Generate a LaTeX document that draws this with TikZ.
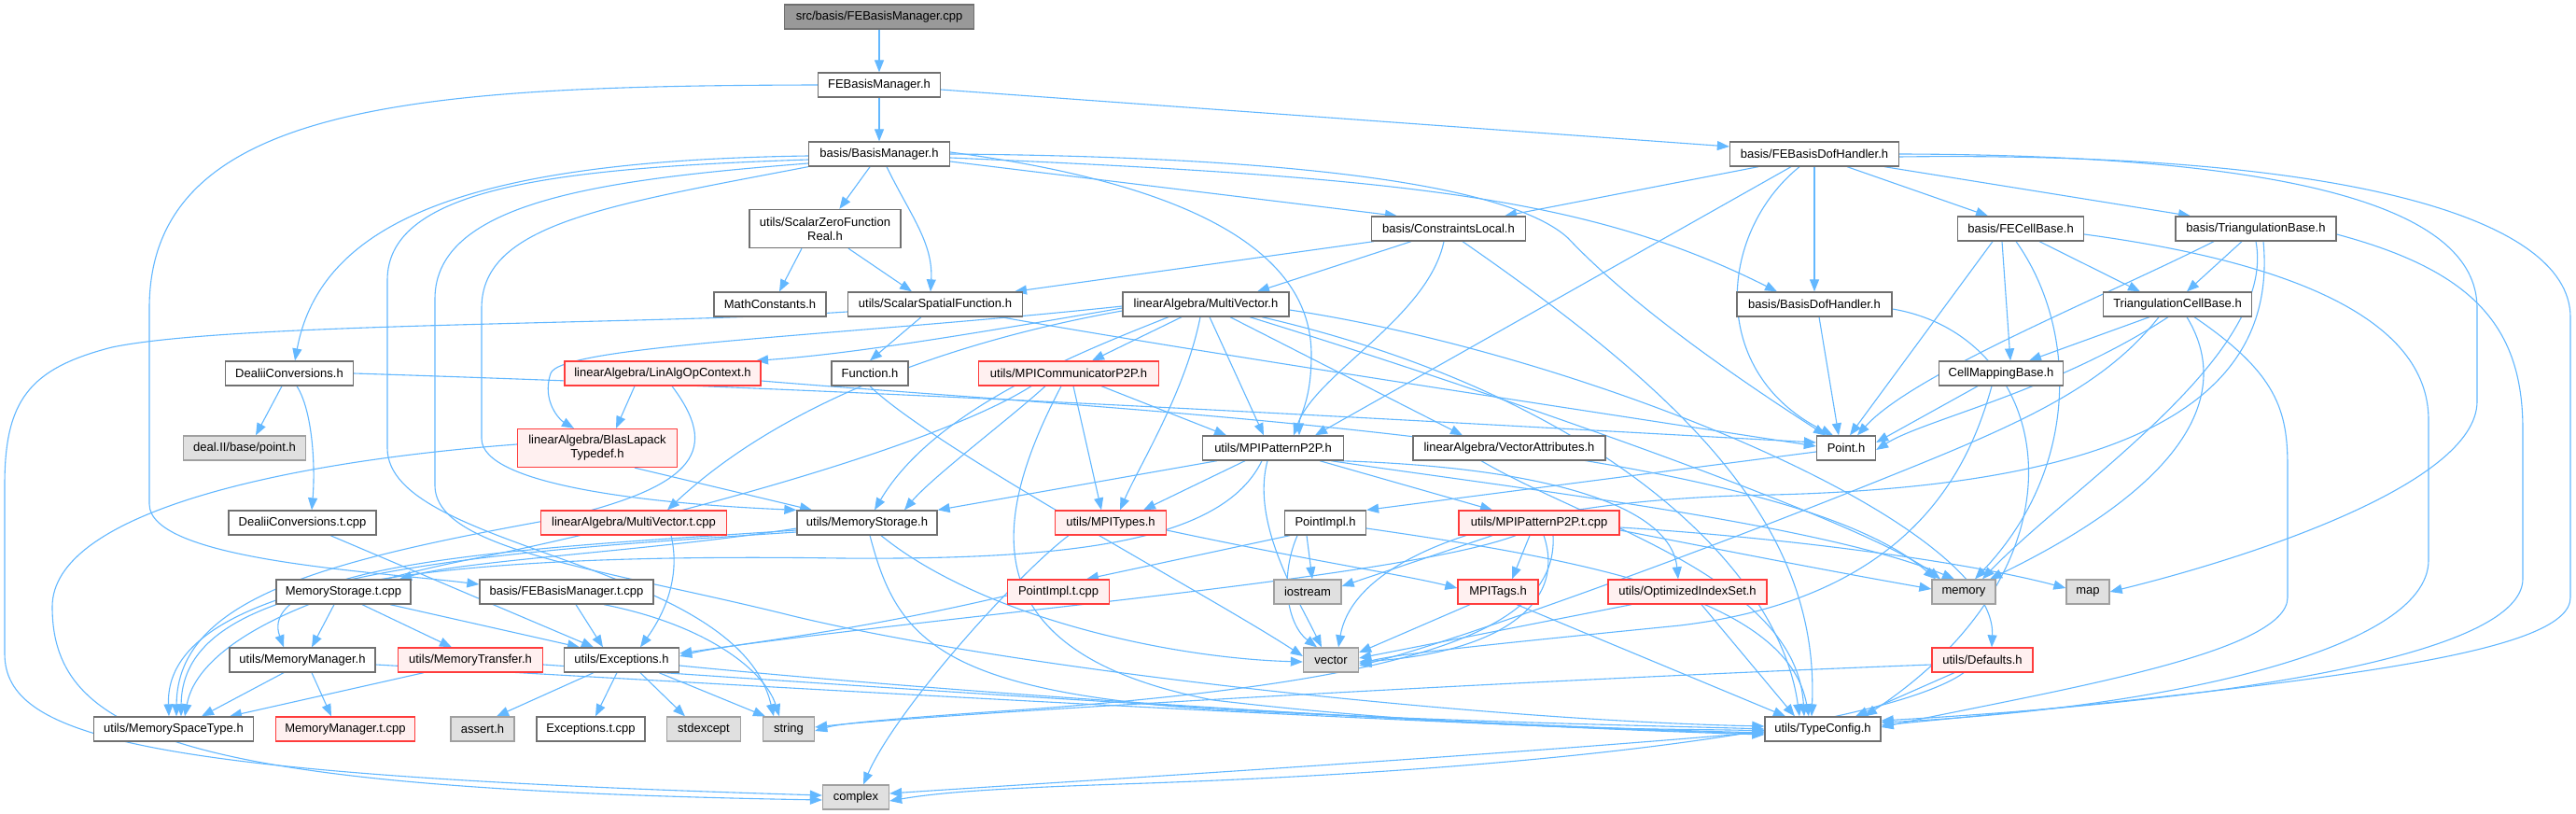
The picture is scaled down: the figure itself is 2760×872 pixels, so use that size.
\documentclass[tikz,border=0pt]{standalone}
\usepackage{fontspec}
\setmainfont{Liberation Sans}
\usetikzlibrary{arrows.meta}
\definecolor{edgec}{HTML}{63B8FF}
\definecolor{nodeborder}{HTML}{707070}
\definecolor{rootfill}{HTML}{999999}
\definecolor{redborder}{RGB}{255,60,60}
\definecolor{redfill}{HTML}{FFF0F0}
\definecolor{grayborder}{HTML}{A0A0A0}
\definecolor{grayfill}{HTML}{E0E0E0}
\newcommand\nodefont{\fontsize{13}{15}\selectfont}
\pgfdeclarelayer{back}
\pgfdeclarelayer{bg}
\pgfsetlayers{back,bg,main}
\tikzset{
  nb/.style={draw=nodeborder, fill=white, line width=1.3pt, minimum height=26pt, inner sep=0pt, font=\nodefont, align=center},
  rt/.style={nb, fill=rootfill},
  rd/.style={nb, draw=redborder, fill=redfill},
  gy/.style={nb, draw=grayborder, fill=grayfill},
  e/.style={draw=edgec, line width=1.1pt, -{Triangle[length=13pt,width=10pt]}},
}
\begin{document}
\begin{tikzpicture}[x=1pt,y=-1pt]
\useasboundingbox (0,0) rectangle (2760,872);
\begin{pgfonlayer}{back}
\fill[white] (0,0) rectangle (2760,872);
\end{pgfonlayer}
% nodes
\node[rt, minimum width=203pt] (root) at (942,18) {src/basis/FEBasisManager.cpp};
\node[nb, minimum width=131pt] (FEBMh) at (942,91) {FEBasisManager.h};
\node[nb, minimum width=151pt] (BMh) at (942,165) {basis/BasisManager.h};
\node[nb, minimum width=181pt] (FEBDH) at (1944,165) {basis/FEBasisDofHandler.h};
\node[nb, minimum width=162pt, minimum height=41pt] (SZFR) at (884,245) {utils/ScalarZeroFunction\\Real.h};
\node[nb, minimum width=165pt] (CL) at (1552,245) {basis/ConstraintsLocal.h};
\node[nb, minimum width=135pt] (FECB) at (2165,245) {basis/FECellBase.h};
\node[nb, minimum width=172pt] (TRIB) at (2417,245) {basis/TriangulationBase.h};
\node[nb, minimum width=120pt] (MATH) at (825,326) {MathConstants.h};
\node[nb, minimum width=187pt] (SSF) at (1002,326) {utils/ScalarSpatialFunction.h};
\node[nb, minimum width=178pt] (MV) at (1292,326) {linearAlgebra/MultiVector.h};
\node[nb, minimum width=166pt] (BDH) at (1944,326) {basis/BasisDofHandler.h};
\node[nb, minimum width=159pt] (TCB) at (2333,326) {TriangulationCellBase.h};
\node[nb, minimum width=137pt] (DCh) at (310,400) {DealiiConversions.h};
\node[rd, minimum width=210pt] (LAOC) at (710,400) {linearAlgebra/LinAlgOpContext.h};
\node[nb, minimum width=82pt] (FUNC) at (932,400) {Function.h};
\node[rd, minimum width=193pt] (MPIC) at (1145,400) {utils/MPICommunicatorP2P.h};
\node[nb, minimum width=133pt] (CMB) at (2144,400) {CellMappingBase.h};
\node[gy, minimum width=131pt] (DEAL) at (262,480) {deal.II/base/point.h};
\node[rd, minimum width=171pt, minimum height=41pt] (BLAS) at (640,480) {linearAlgebra/BlasLapack\\Typedef.h};
\node[nb, minimum width=151pt] (MPIP) at (1364,480) {utils/MPIPatternP2P.h};
\node[nb, minimum width=206pt] (VA) at (1617,480) {linearAlgebra/VectorAttributes.h};
\node[nb, minimum width=63pt] (PT) at (1978,480) {Point.h};
\node[nb, minimum width=158pt] (DCt) at (324,560) {DealiiConversions.t.cpp};
\node[rd, minimum width=199pt] (MVt) at (679,560) {linearAlgebra/MultiVector.t.cpp};
\node[nb, minimum width=150pt] (MS) at (929,560) {utils/MemoryStorage.h};
\node[rd, minimum width=119pt] (MPIT) at (1190,560) {utils/MPITypes.h};
\node[nb, minimum width=87pt] (PI) at (1420,560) {PointImpl.h};
\node[rd, minimum width=172pt] (MPIPt) at (1649,560) {utils/MPIPatternP2P.t.cpp};
\node[nb, minimum width=144pt] (MSt) at (368,634) {MemoryStorage.t.cpp};
\node[nb, minimum width=186pt] (FEBMt) at (607,634) {basis/FEBasisManager.t.cpp};
\node[rd, minimum width=109pt] (PIt) at (1134,634) {PointImpl.t.cpp};
\node[gy, minimum width=72pt] (IOS) at (1401,634) {iostream};
\node[rd, minimum width=86pt] (TAGS) at (1605,634) {MPITags.h};
\node[rd, minimum width=170pt] (OIS) at (1808,634) {utils/OptimizedIndexSet.h};
\node[gy, minimum width=68pt] (MEM) at (2104,634) {memory};
\node[gy, minimum width=46pt] (MAP) at (2237,634) {map};
\node[nb, minimum width=156pt] (MM) at (324,707) {utils/MemoryManager.h};
\node[rd, minimum width=155pt] (MT) at (504,707) {utils/MemoryTransfer.h};
\node[nb, minimum width=123pt] (EXC) at (666,707) {utils/Exceptions.h};
\node[gy, minimum width=59pt] (VEC) at (1426,707) {vector};
\node[rd, minimum width=108pt] (DEF) at (2124,707) {utils/Defaults.h};
\node[nb, minimum width=171pt] (MST) at (186,781) {utils/MemorySpaceType.h};
\node[rd, minimum width=149pt] (MMt) at (370,781) {MemoryManager.t.cpp};
\node[gy, minimum width=68pt] (ASSERT) at (517,781) {assert.h};
\node[nb, minimum width=116pt] (EXt) at (633,781) {Exceptions.t.cpp};
\node[gy, minimum width=79pt] (STDX) at (754,781) {stdexcept};
\node[gy, minimum width=55pt] (STR) at (845,781) {string};
\node[nb, minimum width=124pt] (TC) at (1953,781) {utils/TypeConfig.h};
\node[gy, minimum width=71pt] (CPX) at (917,854) {complex};

\begin{pgfonlayer}{bg}
% root / FEBasisManager.h
\draw[e] (root) -- (FEBMh);
\draw[e] (FEBMh) -- (BMh);
\draw[e] ([yshift=-5pt]FEBMh.east) -- ([yshift=8pt]FEBDH.west);
\draw[e] (FEBMh.west) .. controls (450,92) and (160,110) .. (160,330) -- (160,540) .. controls (160,600) and (400,612) .. ([yshift=8pt]FEBMt.west);
% BasisManager.h
\draw[e] ([yshift=-2pt]BMh.west) .. controls (520,172) and (345,230) .. ([xshift=6pt]DCh.north);
\draw[e] ([yshift=-6pt]BMh.west) .. controls (600,180) and (415,200) .. (415,300) -- (415,480) .. controls (415,590) and (790,600) .. ([xshift=-16pt]STR.north);
\draw[e] ([yshift=-10pt]BMh.west) .. controls (650,192) and (466,215) .. (466,320) -- (466,520) .. controls (466,590) and (650,610) .. (850,660) .. controls (1100,720) and (1600,772) .. ([yshift=3pt]TC.west);
\draw[e] (BMh.south west) .. controls (650,220) and (516,240) .. (516,330) -- (516,470) .. controls (516,520) and (700,540) .. (MS.north west);
\draw[e] (BMh) -- (SZFR);
\draw[e] ([xshift=8pt]BMh.south) .. controls (975,230) and (1000,260) .. ([xshift=-5pt]SSF.north);
\draw[e] ([yshift=-8pt]BMh.east) -- ([xshift=-55pt]CL.north);
\draw[e] ([yshift=2pt]BMh.east) .. controls (1300,200) and (1405,280) .. (1405,380) .. controls (1405,430) and (1392,445) .. ([xshift=28pt]MPIP.north);
\draw[e] (BMh.east) .. controls (1400,168) and (1620,200) .. (1680,255) .. controls (1760,340) and (1900,430) .. ([xshift=-22pt]PT.north);
\draw[e] ([yshift=-4pt]BMh.east) .. controls (1500,190) and (1700,210) .. ([xshift=-40pt]BDH.north);
% FEBasisDofHandler.h
\draw[e] ([xshift=-60pt]FEBDH.south) -- ([xshift=60pt]CL.north);
\draw[e] ([xshift=-25pt]FEBDH.south) -- ([xshift=45pt]MPIP.north);
\draw[e] ([xshift=-16pt]FEBDH.south) .. controls (1840,250) and (1830,400) .. ([xshift=-14pt]PT.north);
\draw[e] (FEBDH) -- (BDH);
\draw[e] ([xshift=35pt]FEBDH.south) -- ([xshift=-35pt]FECB.north);
\draw[e] ([xshift=75pt]FEBDH.south) -- ([xshift=-70pt]TRIB.north);
\draw[e] (FEBDH.east) .. controls (2450,166) and (2654,220) .. (2654,330) -- (2654,430) .. controls (2654,520) and (2400,600) .. (MAP.east);
\draw[e] ([yshift=-3pt]FEBDH.east) .. controls (2500,162) and (2754,230) .. (2754,340) -- (2754,640) .. controls (2754,700) and (2500,730) .. ([yshift=4pt]TC.east);
% DealiiConversions
\draw[e] ([xshift=-8pt]DCh.south) -- ([xshift=12pt]DEAL.north);
\draw[e] ([xshift=8pt]DCh.south) .. controls (335,440) and (338,500) .. ([xshift=10pt]DCt.north);
\draw[e] (DCh.east) .. controls (1000,420) and (1500,450) .. ([yshift=6pt]PT.west);
\draw[e] ([xshift=30pt]DCt.south) -- ([xshift=-30pt]EXC.north);
% ScalarZeroFunctionReal / ScalarSpatialFunction
\draw[e] ([xshift=-25pt]SZFR.south) -- ([xshift=10pt]MATH.north);
\draw[e] ([xshift=25pt]SZFR.south) -- ([xshift=-25pt]SSF.north);
\draw[e] ([xshift=-15pt]SSF.south) -- (FUNC.north);
\draw[e] ([yshift=-8pt]SSF.west) .. controls (700,348) and (250,345) .. (120,372) .. controls (30,395) and (5,430) .. (5,520) -- (5,700) .. controls (5,790) and (150,830) .. ([yshift=2pt]CPX.west);
\draw[e] ([xshift=70pt]SSF.south) .. controls (1300,380) and (1700,440) .. ([yshift=2pt]PT.west);
\draw[e] (FUNC.south) .. controls (1000,480) and (1300,640) .. ([yshift=4pt]VEC.west);
% ConstraintsLocal
\draw[e] ([xshift=-80pt]CL.south) -- ([xshift=85pt]SSF.north);
\draw[e] ([xshift=-40pt]CL.south) -- ([xshift=55pt]MV.north);
\draw[e] ([xshift=-5pt]CL.south) .. controls (1530,340) and (1410,400) .. ([xshift=22pt]MPIP.north);
\draw[e] ([xshift=15pt]CL.south) .. controls (1800,420) and (1950,560) .. ([xshift=-12pt]TC.north);
% MultiVector
\draw[e] ([yshift=-4pt]MV.west) .. controls (1000,365) and (900,380) .. ([xshift=100pt]LAOC.north);
\draw[e] ([yshift=-2pt]MV.west) .. controls (900,360) and (600,370) .. (590,400) .. controls (580,430) and (600,450) .. ([xshift=-25pt]BLAS.north);
\draw[e] ([yshift=-7pt]MV.west) .. controls (1050,360) and (850,420) .. ([xshift=36pt]MVt.north);
\draw[e] ([xshift=-40pt]MV.south) .. controls (1150,380) and (1000,440) .. ([xshift=8pt]MS.north);
\draw[e] ([xshift=-26pt]MV.south) -- ([xshift=25pt]MPIC.north);
\draw[e] ([xshift=-6pt]MV.south) .. controls (1270,420) and (1220,500) .. ([xshift=10pt]MPIT.north);
\draw[e] ([xshift=4pt]MV.south) -- ([xshift=-10pt]MPIP.north);
\draw[e] ([xshift=26pt]MV.south) -- ([xshift=-50pt]VA.north);
\draw[e] ([xshift=47pt]MV.south) .. controls (1600,420) and (2000,560) .. ([xshift=-25pt]MEM.north);
\draw[e] ([yshift=-6pt]MV.east) .. controls (1700,380) and (2140,560) .. ([xshift=10pt]DEF.north);
\draw[e] ([xshift=60pt]MV.south) .. controls (1700,420) and (1905,600) .. ([xshift=-25pt]TC.north);
% LinAlgOpContext / BlasLapack
\draw[e] ([xshift=-30pt]LAOC.south) -- ([xshift=20pt]BLAS.north);
\draw[e] ([xshift=10pt]LAOC.south) .. controls (770,480) and (750,520) .. (600,555) .. controls (350,600) and (190,640) .. ([xshift=3pt]MST.north);
\draw[e] ([yshift=-8pt]LAOC.east) .. controls (1200,440) and (1900,470) .. ([xshift=-30pt]MEM.north);
\draw[e] ([yshift=4pt]BLAS.west) .. controls (300,495) and (56,550) .. (56,650) .. controls (56,790) and (200,845) .. ([yshift=-3pt]CPX.west);
\draw[e] ([xshift=40pt]BLAS.south) -- ([xshift=-59pt]MS.north);
% MPICommunicatorP2P
\draw[e] ([xshift=35pt]MPIC.south) -- ([xshift=-50pt]MPIP.north);
\draw[e] ([xshift=5pt]MPIC.south) -- ([xshift=-10pt]MPIT.north);
\draw[e] ([xshift=-25pt]MPIC.south) .. controls (1080,450) and (1000,510) .. ([xshift=40pt]MS.north);
\draw[e] ([xshift=-8pt]MPIC.south) .. controls (1060,560) and (1040,700) .. (1300,750) .. controls (1600,785) and (1800,780) .. ([yshift=-2pt]TC.west);
\draw[e] ([xshift=-40pt]MPIC.south) .. controls (1000,480) and (700,560) .. (500,600) .. controls (300,640) and (210,700) .. ([xshift=12pt]MST.north);
% MPIPatternP2P
\draw[e] ([xshift=-60pt]MPIP.south) -- (MS.north east);
\draw[e] ([xshift=-30pt]MPIP.south) -- ([xshift=35pt]MPIT.north);
\draw[e] ([xshift=-12pt]MPIP.south) .. controls (1310,580) and (1150,600) .. (900,598) .. controls (350,590) and (195,650) .. ([xshift=8pt]MST.north);
\draw[e] ([xshift=-6pt]MPIP.south) .. controls (1340,560) and (1390,640) .. ([xshift=-10pt]VEC.north);
\draw[e] ([xshift=50pt]MPIP.south) -- ([xshift=-50pt]MPIPt.north);
\draw[e] ([xshift=62pt]MPIP.south) .. controls (1600,520) and (1950,560) .. ([xshift=-10pt]MEM.north);
\draw[e] ([xshift=70pt]MPIP.south) .. controls (1650,500) and (1790,540) .. ([xshift=-10pt]OIS.north);
% MPITypes
\draw[e] ([xshift=-45pt]MPIT.south) .. controls (1090,615) and (960,760) .. ([xshift=8pt]CPX.north);
\draw[e] ([yshift=-8pt]MPIT.east) .. controls (1400,600) and (1500,615) .. ([yshift=4pt]TAGS.west);
% Point / PointImpl
\draw[e] ([yshift=-4pt]PT.west) -- (PI.north east);
\draw[e] ([xshift=-20pt]PI.south) -- ([xshift=5pt]IOS.north);
\draw[e] ([xshift=-38pt]PI.south) -- ([xshift=30pt]PIt.north);
\draw[e] ([xshift=-30pt]PI.south) .. controls (1370,620) and (1380,670) .. ([xshift=-15pt]VEC.north);
\draw[e] ([yshift=-6pt]PI.east) .. controls (1700,600) and (1915,640) .. ([xshift=-15pt]TC.north);
\draw[e] ([yshift=-4pt]PIt.west) .. controls (900,680) and (780,690) .. ([yshift=4pt]EXC.east);
% MPIPatternP2P.t.cpp
\draw[e] ([xshift=-50pt]MPIPt.south) -- ([yshift=6pt]IOS.east);
\draw[e] ([xshift=-25pt]MPIPt.south) .. controls (1500,620) and (1000,660) .. ([yshift=7pt]EXC.east);
\draw[e] ([xshift=-10pt]MPIPt.south) -- ([xshift=15pt]TAGS.north);
\draw[e] ([xshift=5pt]MPIPt.south) .. controls (1680,650) and (1600,700) .. ([yshift=-2pt]VEC.east);
\draw[e] ([xshift=15pt]MPIPt.south) .. controls (1670,680) and (1500,730) .. (1100,760) .. controls (950,770) and (900,775) .. ([yshift=-2pt]STR.east);
\draw[e] ([yshift=-8pt]MPIPt.east) .. controls (1850,590) and (1950,610) .. ([yshift=3pt]MEM.west);
\draw[e] ([yshift=-5pt]MPIPt.east) .. controls (1900,575) and (2100,600) .. ([yshift=4pt]MAP.west);
% MPITags / OptimizedIndexSet / Defaults / TypeConfig
\draw[e] ([xshift=-30pt]TAGS.south) -- ([yshift=8pt]VEC.east);
\draw[e] ([xshift=20pt]TAGS.south) -- ([xshift=-40pt]TC.north);
\draw[e] ([xshift=-60pt]OIS.south) -- ([yshift=2pt]VEC.east);
\draw[e] ([xshift=15pt]OIS.south) -- ([xshift=-30pt]TC.north);
\draw[e] ([xshift=-30pt]DEF.south) -- ([xshift=35pt]TC.north);
\draw[e] ([xshift=-20pt]DEF.south) .. controls (2050,760) and (1800,820) .. (1200,840) .. controls (1050,845) and (1000,850) .. ([yshift=-4pt]CPX.east);
\draw[e] ([yshift=-5pt]DEF.west) .. controls (1600,730) and (1000,765) .. ([yshift=2pt]STR.east);
\draw[e] ([yshift=-3pt]TC.west) .. controls (1600,810) and (1100,840) .. ([yshift=4pt]CPX.east);
\draw[e] ([xshift=-30pt]VA.south) .. controls (1700,560) and (1925,620) .. ([xshift=-20pt]TC.north);
% MemoryStorage
\draw[e] ([yshift=-6pt]MS.west) .. controls (700,590) and (500,600) .. ([xshift=60pt]MSt.north);
\draw[e] ([yshift=-8pt]MS.west) .. controls (600,585) and (270,600) .. ([xshift=-20pt]MM.north);
\draw[e] ([yshift=-10pt]MS.west) .. controls (550,590) and (175,610) .. ([xshift=-5pt]MST.north);
\draw[e] ([xshift=3pt]MS.south) .. controls (960,680) and (1000,740) .. (1300,760) .. controls (1600,775) and (1800,778) .. (TC.west);
\draw[e] ([xshift=15pt]MS.south) .. controls (1050,660) and (1250,705) .. ([yshift=-2pt]VEC.west);
\draw[e] ([xshift=-10pt]MSt.south) -- ([xshift=10pt]MM.north);
\draw[e] ([xshift=20pt]MSt.south) -- ([xshift=-20pt]MT.north);
\draw[e] ([xshift=50pt]MSt.south) -- ([xshift=-45pt]EXC.north);
\draw[e] ([xshift=-20pt]MM.south) -- ([xshift=30pt]MST.north);
\draw[e] ([xshift=10pt]MM.south) -- ([xshift=-15pt]MMt.north);
\draw[e] ([yshift=-5pt]MM.east) .. controls (900,740) and (1500,775) .. ([yshift=-5pt]TC.west);
\draw[e] ([xshift=-50pt]MT.south) -- ([xshift=60pt]MST.north);
\draw[e] ([yshift=-5pt]MT.east) .. controls (1000,740) and (1500,775) .. ([yshift=-4pt]TC.west);
\draw[e] ([xshift=10pt]FEBMt.south) -- ([xshift=-20pt]EXC.north);
\draw[e] ([xshift=40pt]FEBMt.south) .. controls (760,670) and (820,720) .. ([xshift=-10pt]STR.north);
\draw[e] ([xshift=40pt]MVt.south) .. controls (730,620) and (710,660) .. ([xshift=20pt]EXC.north);
% Exceptions
\draw[e] ([xshift=-30pt]EXC.south) -- ([xshift=15pt]ASSERT.north);
\draw[e] ([xshift=-5pt]EXC.south) -- ([xshift=5pt]EXt.north);
\draw[e] ([xshift=20pt]EXC.south) -- ([xshift=-20pt]STDX.north);
\draw[e] ([xshift=40pt]EXC.south) -- ([xshift=-25pt]STR.north);
\draw[e] ([yshift=-6pt]EXC.east) .. controls (1000,740) and (1500,775) .. ([yshift=-6pt]TC.west);
% BasisDofHandler / FECellBase / TriangulationBase / TriangulationCellBase / CellMappingBase
\draw[e] ([xshift=5pt]BDH.south) -- ([xshift=-8pt]PT.north);
\draw[e] ([yshift=-5pt]BDH.east) .. controls (2200,360) and (2250,600) .. ([xshift=45pt]TC.north);
\draw[e] ([xshift=-30pt]FECB.south) -- ([xshift=4pt]PT.north);
\draw[e] ([xshift=-20pt]FECB.south) -- ([xshift=10pt]CMB.north);
\draw[e] ([xshift=-5pt]FECB.south) .. controls (2225,350) and (2230,500) .. ([xshift=12pt]MEM.north);
\draw[e] ([xshift=20pt]FECB.south) -- ([xshift=-40pt]TCB.north);
\draw[e] ([yshift=-6pt]FECB.east) .. controls (2450,280) and (2602,340) .. (2602,450) -- (2602,600) .. controls (2602,700) and (2300,760) .. ([yshift=7pt]TC.east);
\draw[e] ([xshift=-45pt]TRIB.south) .. controls (2250,320) and (2050,400) .. ([xshift=12pt]PT.north);
\draw[e] ([xshift=-15pt]TRIB.south) -- ([xshift=10pt]TCB.north);
\draw[e] (TRIB.south) .. controls (2440,380) and (2220,520) .. ([xshift=20pt]MEM.north);
\draw[e] ([xshift=8pt]TRIB.south) .. controls (2440,420) and (2300,520) .. (1900,530) .. controls (1600,535) and (1450,600) .. ([xshift=8pt]VEC.north);
\draw[e] ([yshift=-6pt]TRIB.east) .. controls (2650,290) and (2703,350) .. (2703,460) -- (2703,620) .. controls (2703,700) and (2400,750) .. ([yshift=9pt]TC.east);
\draw[e] ([xshift=-30pt]TCB.south) -- ([xshift=30pt]CMB.north);
\draw[e] ([xshift=-10pt]TCB.south) .. controls (2200,420) and (2060,450) .. ([yshift=-2pt]PT.east);
\draw[e] ([xshift=10pt]TCB.south) .. controls (2380,400) and (2380,500) .. ([xshift=28pt]MEM.north);
\draw[e] ([xshift=18pt]TCB.south) .. controls (2440,400) and (2451,440) .. (2451,500) -- (2451,640) .. controls (2451,700) and (2200,740) .. ([yshift=2pt]TC.east);
\draw[e] ([xshift=-20pt]TCB.south) .. controls (2250,420) and (2150,460) .. (2000,520) .. controls (1800,600) and (1550,690) .. ([yshift=-6pt]VEC.east);
\draw[e] ([xshift=-25pt]CMB.south) -- ([yshift=6pt]PT.east);
\draw[e] ([xshift=-10pt]CMB.south) .. controls (2110,500) and (2050,640) .. (1800,670) .. controls (1600,690) and (1500,700) .. ([yshift=-4pt]VEC.east);
\end{pgfonlayer}
\end{tikzpicture}
\end{document}
